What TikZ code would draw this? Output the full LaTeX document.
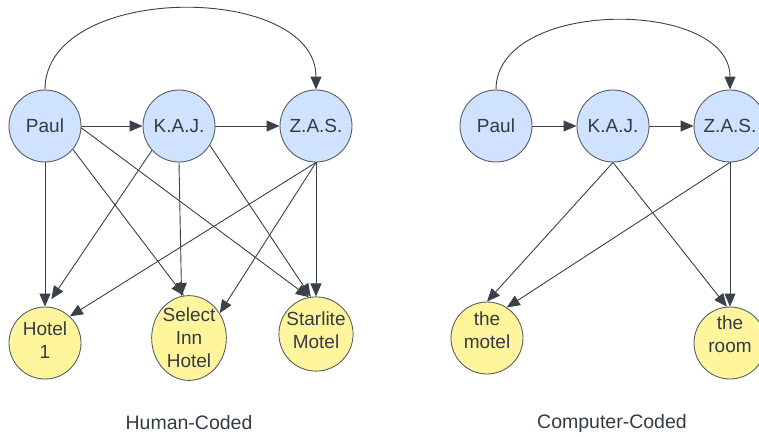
\documentclass[tikz,border=0pt]{standalone}
\usepackage{fontspec}
\setmainfont{Liberation Sans}
\usetikzlibrary{arrows.meta,shapes.geometric}
\definecolor{nodeblue}{HTML}{CFE2FF}
\definecolor{nodeyellow}{HTML}{FFF59D}
\definecolor{edgegray}{HTML}{3A414A}
\definecolor{rimgray}{HTML}{5A5F66}
\definecolor{inkgray}{HTML}{333B44}

\begin{document}
\begin{tikzpicture}[x=1pt,y=-1pt,
  actor/.style={circle,draw=rimgray,line width=0.9pt,fill=nodeblue,
    minimum size=72pt,inner sep=0pt,text=inkgray,
    font=\fontsize{19}{23}\selectfont},
  place/.style={circle,draw=rimgray,line width=0.9pt,fill=nodeyellow,
    minimum size=72pt,inner sep=0pt,text=inkgray,align=center,
    font=\fontsize{19}{23}\selectfont},
  % extra depth below the text lifts it above the circle's centre
  lift/.style={text depth=#1},
  link/.style={draw=edgegray,line width=0.9pt,
    -{Triangle[length=13pt,width=11pt]}},
  caption/.style={text=inkgray,font=\fontsize{19.5}{23}\selectfont}]
\useasboundingbox (0,0) rectangle (759,436);
\clip (0,0) rectangle (759,436);

% ---------- human-coded graph ----------
\node[actor] (p)  at (45,126)  {Paul};
\node[actor] (k)  at (179,126) {K.A.J.};
\node[actor] (z)  at (316,126) {Z.A.S.};
\node[place,lift=6pt] (h1) at (45,343)  {Hotel\\1};
\node[place,ellipse,minimum width=72pt,minimum height=82pt] (s) at (189,338) {Select\\Inn\\Hotel};
\node[place,lift=8pt] (m)  at (316,334) {Starlite\\Motel};
\node[caption] (capL) at (189,423) {Human-Coded};

\draw[link] (p.east) -- (k.west);
\draw[link] (k.east) -- (z.west);
\draw[link] (p.north) .. controls (45,-18) and (316,-18) .. (z.north);
\draw[link] (p.south) -- (h1.north);
\draw[link] (p.-40) -- (s.97);
\draw[link] (p.-3) -- (m.101);
\draw[link] (k.222) -- ([yshift=8pt]h1.80);
\draw[link] (k.south) -- (s.100);
\draw[link] (k.-32) -- (m.98);
\draw[link] (z.south) -- (h1.47);
\draw[link] (z.south) -- (s.39);
\draw[link] (z.south) -- (m.north);

% ---------- computer-coded graph ----------
\node[actor] (p2) at (496,126) {Paul};
\node[actor] (k2) at (613,126) {K.A.J.};
\node[actor] (z2) at (730,126) {Z.A.S.};
\node[place,lift=16pt] (t)  at (487,338) {the\\motel};
\node[place,lift=18pt] (r)  at (730,343) {the\\room};
\node[caption] (capR) at (612,423) {Computer-Coded};

\draw[link] (p2.east) -- (k2.west);
\draw[link] (k2.east) -- (z2.west);
\draw[link] (p2.north) .. controls (496,-2) and (730,-2) .. (z2.north);
\draw[link] (k2.south) -- (t.north);
\draw[link] (k2.south) -- (r.95);
\draw[link] (z2.south) -- (t.57);
\draw[link] (z2.south) -- (r.north);
\end{tikzpicture}
\end{document}
